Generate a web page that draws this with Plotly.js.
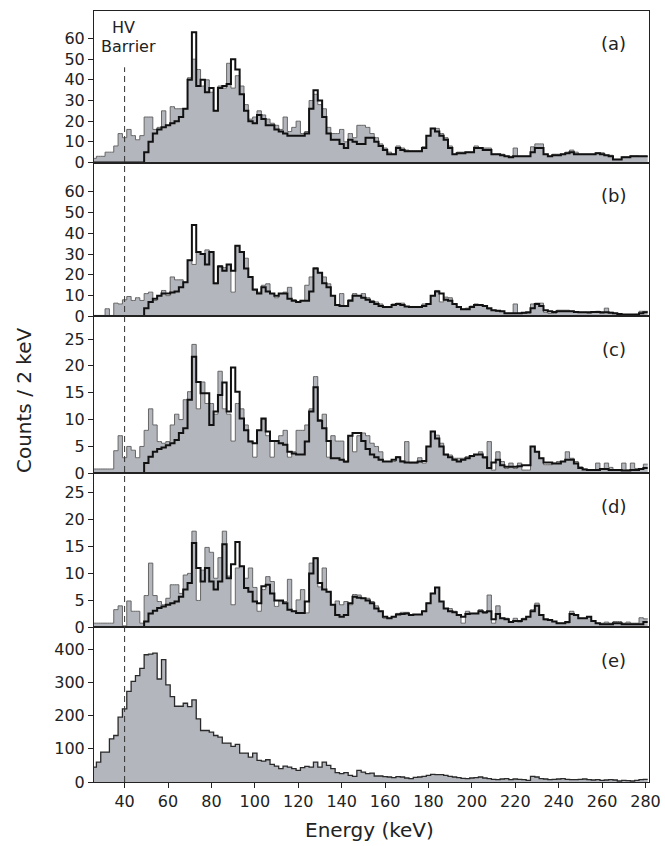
<!DOCTYPE html>
<html><head><meta charset="utf-8">
<script src="https://cdn.plot.ly/plotly-3.0.1.min.js"></script>
<style>html,body{margin:0;padding:0;background:#fff}#chart{width:665px;height:846px}</style>
</head><body><div id="chart"></div>
<script>
// Bin centres (keV), 2 keV bins
const energy = [26,28,30,32,34,36,38,40,42,44,46,48,50,52,54,56,58,60,62,64,
66,68,70,72,74,76,78,80,82,84,86,88,90,92,94,96,98,100,102,104,
106,108,110,112,114,116,118,120,122,124,126,128,130,132,134,136,138,140,142,144,
146,148,150,152,154,156,158,160,162,164,166,168,170,172,174,176,178,180,182,184,
186,188,190,192,194,196,198,200,202,204,206,208,210,212,214,216,218,220,222,224,
226,228,230,232,234,236,238,240,242,244,246,248,250,252,254,256,258,260,262,264,
266,268,270,272,274,276,278,280];
const BIN = 2;

const aData = [2,3,3,5,5,8,14,12,16,13,
 11,13,22,22,16,17,25,18,27,26,
 26,26,41,50,45,37,40,34,25,37,
 36,48,36,42,37,28,21,22,25,23,
 21,19,18,16,22,15,17,20,14,15,
 30,33,28,26,17,14,14,16,10,14,
 12,18,18,17,14,12,9,7,5,4,
 8,7,6,5.6,5.6,5.6,7.6,13,16.5,16.5,
 14,12,8,4,5,5,5,5,8,7,
 7,7,4,4,4,3,3,7,3,3,
 3,7.6,9,9,4,3,4,4,4,5,
 6,5,4,4,4,4,4.7,4.7,3.5,3.5,
 1.5,1.5,2.7,2.7,3.2,3.2,3,3];
const aSim = [0,0,0,0,0,0,0,0,0,0,
 0,0,5,10,14,16,17,18,19,20,
 22,26,40,63,37,40,34,36,25,36,
 37,38,50,45,33,25,20,19,23,21,
 18,18,16,15,14,13,13,13,13,14,
 26,35,30,22,14,11,11,9,7,11,
 10,9,9,12,12,10,8,6,4,4,
 7,6,5.5,5.5,5.5,5.5,7,13,16.5,15,
 13,11,7,4,4.5,4.5,5,5,7,7,
 6,6,4,4,3.5,3,2.5,3,3,3,
 3,5,7,7,4,3,3.5,3.5,4,4.5,
 5,4,4,4,4,4,4.5,4,3.5,3,
 1.5,1.5,2.5,2.5,3,3,3,3];

const bData = [0.5,0.5,0.5,3.7,0.5,6.4,6,8,9.6,7.7,
 9,7.7,11,11.7,7.7,10,12.5,10,19,17.6,
 17.6,16.5,27,25,31,30,32,31,15.7,24.5,
 23.5,25,11.7,34,31,28,19,12.5,11.7,15,
 15.7,11,9,11,11.7,14,8,7,7.7,15,
 19,23.4,21,19,15.7,10,5.5,11,5,8,
 11,10,11,9,7.7,7,6,4.5,4.5,6,
 6.4,6.4,4.8,4.8,4.8,4.8,6,6,10,12.5,
 7,9.3,9,6,4.5,3.5,4,5,6,5.5,
 5,3.5,3,2.5,2.5,1.5,1.5,6,1.5,1.5,
 1.5,6,6.4,6.4,2,1.5,1.5,3,3,3,
 2.5,2,2,2,1.5,2,2.5,1.5,4,2,
 1.5,1,0.8,0.8,0.8,1,2.5,2.5];
const bSim = [0,0,0,0,0,0,0,0,0,0,
 0,0,4,7,8.5,10,11,11,11.5,12,
 14,16.5,27,44,31,30,25,31,16,24,
 22,25,22,34,31,23,19,13,11,14,
 12,11,10,11,11,8.5,7.5,7,7.5,7.5,
 12,23,21,16,14,10,5.5,5,5,7.5,
 10,10,9,8,7,6,5,4.5,4.5,5.5,
 6,5.5,4.8,4.5,4.5,4.5,5,6,10,12,
 11,8,7.5,6,4.5,3.5,3.5,4.5,5.5,5.5,
 5,4,3,2.7,2.5,1.5,1.5,1.5,1.5,1.8,
 2,4,6,5,3,2.5,2.2,2.5,2.5,2.5,
 2.5,2.2,2,2,2,2.2,2.2,2,2,1.8,
 1.5,1.2,1,1,1,1,1.5,2];

const cData = [0.8,0.8,0.8,0.8,0.8,4.2,7,2.9,5,4.3,
 2.9,5,8,12,9,5.9,5.6,5.9,9,11,
 10,13.7,15.2,24,12,17,13,13,11,19,
 12,11,6,13,12,9,6,3,8,10,
 7,3,6,7,8,3,4,8,8,9,
 12,18,10,11,3,7,6,6,2,7,
 4,7,7.5,7,5.6,5,4,2.2,2.2,2.2,
 3.1,2.3,5.9,1.9,1.9,2.9,1.9,5,7.8,7.1,
 5.6,3.4,3.4,2.8,2.8,2.8,3.1,3.1,3.4,4,
 2.8,5.9,0.6,4,2.2,0.9,1.9,0.9,1.9,0.6,
 0.6,5,4,2.8,1.6,1.6,1.9,2.2,2.2,4,
 2.8,2.2,1.2,0.8,0.6,0.6,1.9,0.9,1.9,1.1,
 0.6,0.6,1.9,0.6,1.9,0.9,0.9,1.7];
const cSim = [0,0,0,0,0,0,0,0,0,0,
 0,0,1.9,3.1,4,4.5,4.8,5.2,5.6,6.2,
 7.5,8.4,13.7,21.7,17,14.9,14.9,9,11.5,14.6,
 16.9,11.5,19.7,15.2,10.2,8,5.9,5.6,8,10.2,
 7.8,6,6,5.6,5.3,4,3.7,3.5,3.5,5.9,
 11.5,16,9.8,8.4,6,2.8,2.8,2.5,2.2,7,
 7.5,7.5,6,4.5,3.5,3,2.5,2.2,2.2,2.5,
 3,2.2,2,2,2,2.2,2.3,5,7.8,6.5,
 5,3.5,3,2.5,2.2,2.5,2.8,3.2,3.5,3.5,
 3,1,2,2.5,1.5,1.2,1.2,1.2,1.3,1.5,
 1.5,5,4,2.8,2,2,1.8,1.8,2.2,2.5,
 2.5,1.8,1,0.7,0.6,0.6,0.6,0.8,0.8,0.6,
 0.6,0.6,0.5,0.5,0.6,0.6,0.8,1];

const dData = [0.8,0.8,0.8,0.8,0.8,3.3,4,0.3,4.9,3,
 3,0.8,5.9,11.9,5.9,4.8,4.2,5.4,7.9,7.9,
 6.3,9.7,10,17.8,5,10.6,14.8,13.9,9.1,12.9,
 17.8,9.5,4.2,11,11.3,9.1,11,7.4,3,7,
 9.4,8.5,3.9,4.9,4.8,8.9,3,5.1,7,2.7,
 11.9,12.9,7.5,11,6.6,4.2,4.9,4.2,4.8,4.2,
 6.1,6,5.4,5.4,4.8,4,3,1.7,1.7,2,
 2.6,2.8,2.8,2.3,2.4,2.4,3,4.5,6.3,7.4,
 4.8,3.5,3.5,3,2.3,0.8,3,2.6,2.6,3.3,
 2.6,6,0.8,4,1.7,1.7,1,1.7,1,1.7,
 2,3.3,4.5,2.3,1.4,1.4,1.1,0.8,0.8,0.8,
 3,2.3,1.7,1.7,2,1.2,0.8,0.8,1,0.8,
 1.1,1.1,0.8,1,0.8,0.8,1.8,1.6];
const dSim = [0,0,0,0,0,0,0,0,0,0,
 0,0,1.1,2.6,3.1,3.6,3.9,4.2,4.5,4.8,
 5.7,7,8.2,15.6,11,8.5,11,8.5,7,8.5,
 15.4,9.1,11.7,15.8,11.3,7.3,6.6,4.8,4.5,7.6,
 7.9,6.3,5,5,4.5,3.3,3,2.7,2.7,4.8,
 10,12.8,8.2,7,6.6,4.2,2.3,2,2.3,4.5,
 5.7,5.5,5.4,5,4.5,3.5,3,2,1.7,2,
 2.4,2.5,2.6,2.3,2.4,2.4,3,4.5,6.3,7.4,
 4.8,3.5,3,2.8,2.3,2,2.5,2.6,2.6,3,
 2.8,3,1.5,2.5,1.7,1.5,1,1.2,1.2,1.5,
 2,3,4,2.3,1.5,1.4,1.1,0.8,0.8,1,
 2.5,2.3,1.7,1.7,2,1.2,0.8,0.6,0.6,0.6,
 0.8,0.8,0.6,0.6,0.6,0.6,0.6,1];

const eData = [45,60,90,90,130,140,195,220,273,303,
 320,342,383,385,388,310,368,292,257,228,
 228,237,227,247,190,155,155,150,140,135,
 117,117,107,113,87,87,75,87,65,63,
 67,53,48,40,48,45,40,35,43,47,
 45,60,45,60,50,40,28,25,28,20,
 17,35,30,25,27,18,18,16,15,13,
 16,15,12,10,14,15,17,20,23,22,
 22,20,17,15,13,11,10,12,13,15,
 12,10,8,7,9,10,7,9,8,7,
 5,17,15,10,9,7,8,9,10,8,
 7,7,8,9,7,6,7,5,6,7,
 6,3,5,4,3,5,7,8];

const panelLabels = ['(a)','(b)','(c)','(d)','(e)'];
const ticksAB = [0,10,20,30,40,50,60];
const ticksCD = [0,5,10,15,20,25];
const ticksE = [0,100,200,300,400];
const xTicks = [40,60,80,100,120,140,160,180,200,220,240,260,280];
const barrierEnergy = 40;

const FONT = 'DejaVu Sans, Liberation Sans, Arial, sans-serif';
const FILL = '#b3b6bc';
const panels = [
  {data:aData, sim:aSim, range:[0,73.3], ticks:ticksAB, dom:[0.8035,1]},
  {data:bData, sim:bSim, range:[0,74], ticks:ticksAB, dom:[0.6038,0.8035]},
  {data:cData, sim:cSim, range:[0,29.2], ticks:ticksCD, dom:[0.4004,0.6038]},
  {data:dData, sim:dSim, range:[0,28.5], ticks:ticksCD, dom:[0.2004,0.4004]},
  {data:eData, sim:null, range:[0,465], ticks:ticksE, dom:[0,0.2004]}
];

const xs = [energy[0]-BIN/2].concat(energy, [energy[energy.length-1]+BIN/2]);
const pad = arr => [arr[0]].concat(arr, [arr[arr.length-1]]);

const traces = [];
const layout = {
  width:665, height:846,
  margin:{l:94, r:16, t:11, b:64},
  paper_bgcolor:'#fff', plot_bgcolor:'#fff',
  showlegend:false,
  font:{family:FONT, size:16, color:'#222'},
  annotations:[], shapes:[]
};

panels.forEach((p,i)=>{
  const s = i===0 ? '' : String(i+1);
  traces.push({x:xs, y:pad(p.data), xaxis:'x'+s, yaxis:'y'+s, type:'scatter', mode:'lines',
    line:{shape:'hvh', color: i===4 ? '#2a2a2a' : '#666', width: i===4 ? 1.3 : 1},
    fill:'tozeroy', fillcolor:FILL, hoverinfo:'skip'});
  if (p.sim) traces.push({x:xs, y:pad(p.sim), xaxis:'x'+s, yaxis:'y'+s, type:'scatter', mode:'lines',
    line:{shape:'hvh', color:'#111', width:2}, hoverinfo:'skip'});
  layout['xaxis'+s] = {domain:[0,1], range:[25.9,281.6], anchor:'y'+s,
    showline:true, mirror:true, linecolor:'#222', linewidth:1, showgrid:false, zeroline:false,
    tickvals:xTicks, ticks: i===4 ? 'outside' : '', ticklen:5, tickcolor:'#222',
    showticklabels: i===4, tickfont:{size:16, family:FONT, color:'#222'}};
  layout['yaxis'+s] = {domain:p.dom, range:p.range, anchor:'x'+s,
    showline:true, mirror:true, linecolor:'#222', linewidth:1, showgrid:false, zeroline:false,
    tickvals:p.ticks, ticks:'outside', ticklen:5, tickcolor:'#222',
    tickfont:{size:16, family:FONT, color:'#222'}};
  layout.annotations.push({text:panelLabels[i], xref:'paper', yref:'paper',
    x:0.962, xanchor:'right', y:p.dom[1]-33/771, yanchor:'middle', showarrow:false,
    font:{size:18, family:FONT, color:'#222'}});
});

layout.shapes.push({type:'line', xref:'x5', yref:'paper', x0:barrierEnergy, x1:barrierEnergy,
  y0:0, y1:0.927, line:{color:'#333', width:1, dash:'6px,4px'}, layer:'above'});
layout.annotations.push({text:'HV', xref:'paper', yref:'paper', x:0.0523, y:0.9786,
  xanchor:'center', yanchor:'middle', showarrow:false, font:{size:16, family:FONT, color:'#222'}});
layout.annotations.push({text:'Barrier', xref:'paper', yref:'paper', x:0.063, y:0.954,
  xanchor:'center', yanchor:'middle', showarrow:false, font:{size:16, family:FONT, color:'#222'}});
layout.annotations.push({text:'Energy (keV)', xref:'paper', yref:'paper', x:0.497, y:-0.0625,
  xanchor:'center', yanchor:'middle', showarrow:false, font:{size:20, family:FONT, color:'#222'}});
layout.annotations.push({text:'Counts / 2 keV', xref:'paper', yref:'paper', x:-0.126, y:0.4955,
  xanchor:'center', yanchor:'middle', textangle:-90, showarrow:false, font:{size:20, family:FONT, color:'#222'}});

Plotly.newPlot('chart', traces, layout, {staticPlot:true, displayModeBar:false});
</script></body></html>
